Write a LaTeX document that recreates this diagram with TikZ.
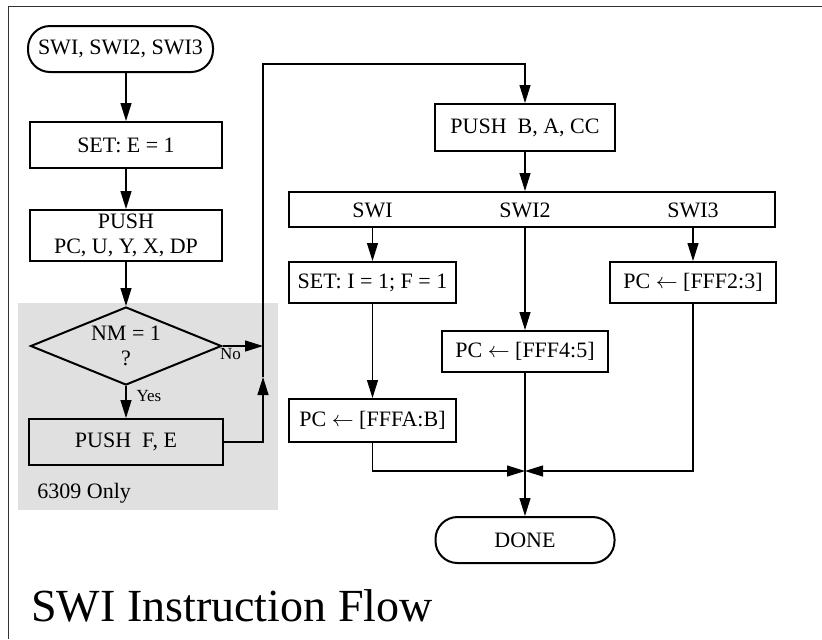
\documentclass[tikz,border=0pt]{standalone}
\usepackage{fontspec}
\setmainfont{Liberation Serif}
\usetikzlibrary{arrows.meta, positioning, calc, shapes.geometric}
\definecolor{onlygray}{RGB}{224,224,224}
\tikzset{
  blk/.style={draw, line width=1pt, inner sep=2pt, align=center, font=\fontsize{11}{12.5}\selectfont},
  ter/.style={blk, rounded corners=11pt},
  dec/.style={blk, diamond, aspect=2.45, inner sep=0pt, minimum width=95.5pt, minimum height=39pt},
  flo/.style={-{Triangle[length=9pt, width=5.5pt]}, line width=0.6pt},
  lin/.style={line width=0.6pt},
  ylab/.style={font=\fontsize{8.5}{10}\selectfont, inner sep=1pt},
  txt/.style={font=\fontsize{11}{12.5}\selectfont, inner sep=0pt}
}

\begin{document}
\begin{tikzpicture}[x=0.5pt, y=-0.5pt]
  \useasboundingbox (0,0) rectangle (822,639);
  \fill[onlygray] (18,303) rectangle (278,510);
  \draw[line width=0.8pt, black!80] (8.5,639) -- (8.5,6.5) -- (822,6.5);
  % left column
  \node[ter, minimum width=92.5pt, minimum height=23pt] (start) at (120.5,49) {SWI, SWI2, SWI3};
  \node[blk, minimum width=96pt, minimum height=23pt] (sete) at (126,145) {SET: E = 1};
  \node[blk, minimum width=96pt, minimum height=24.5pt] (push1) at (126,235.5) {PUSH\\PC, U, Y, X, DP};
  \node[dec] (nm) at (126,346) {NM = 1\\?};
  \node[blk, minimum width=97pt, minimum height=23pt] (pushfe) at (126,442) {PUSH\ \ F, E};
  \node[txt, anchor=west] (only) at (37,493) {6309 Only};
  \coordinate (jn) at (263,346);
  \coordinate (up) at (263,377);
  \coordinate (tl) at (263,64);
  % right column
  \node[blk, minimum width=90pt, minimum height=23.5pt] (pushb) at (525,127.5) {PUSH\ \ B, A, CC};
  \node[blk, minimum width=243pt, minimum height=17.5pt] (sel) at (532,209.5) {};
  \node[txt, anchor=base] (swi) at (372.5,217) {SWI};
  \node[txt, anchor=base] (swib) at (525,217) {SWI2};
  \node[txt, anchor=base] (swic) at (693,217) {SWI3};
  \node[blk, minimum width=83.5pt, minimum height=20.5pt] (seti) at (372.5,282.5) {SET: I = 1; F = 1};
  \node[blk, minimum width=83pt, minimum height=20.5pt] (vec3) at (693,282.5) {PC $\leftarrow$ [FFF2:3]};
  \node[blk, minimum width=83pt, minimum height=20.5pt] (vec2) at (525,351.5) {PC $\leftarrow$ [FFF4:5]};
  \node[blk, minimum width=83.5pt, minimum height=21.5pt] (vec1) at (372.5,420.5) {PC $\leftarrow$ [FFFA:B]};
  \coordinate (mrg) at (525,471);
  \node[ter, minimum width=89.5pt, minimum height=23pt] (done) at (525,540) {DONE};
  \node[anchor=base west, inner sep=0pt, font=\fontsize{23}{27}\selectfont] (ttl) at (31,621) {SWI Instruction Flow};
  % connectors
  \draw[flo] (start.south -| sete.north) -- (sete.north);
  \draw[flo] (sete) -- (push1);
  \draw[flo] (push1) -- (nm);
  \draw[flo] (nm) -- node[ylab, right=4pt, pos=0.3] {Yes} (pushfe);
  \draw[flo] (nm.east) -- node[ylab, below, pos=0.2] {No} (jn);
  \draw[flo] (pushfe.east) -| (up);
  \draw[lin] (up) -- (jn);
  \draw[flo] (jn) -- (tl) -| (pushb.north);
  \draw[flo] (pushb) -- (pushb |- sel.north);
  \draw[flo] (sel.south -| swi) -- (seti);
  \draw[flo] (sel.south -| swib) -- (vec2);
  \draw[flo] (sel.south -| swic) -- (vec3);
  \draw[flo] (seti) -- (vec1);
  \draw[flo] (vec1) |- (mrg);
  \draw[flo] (vec3) |- (mrg);
  \draw[flo] (vec2) -- (done);
\end{tikzpicture}
\end{document}
